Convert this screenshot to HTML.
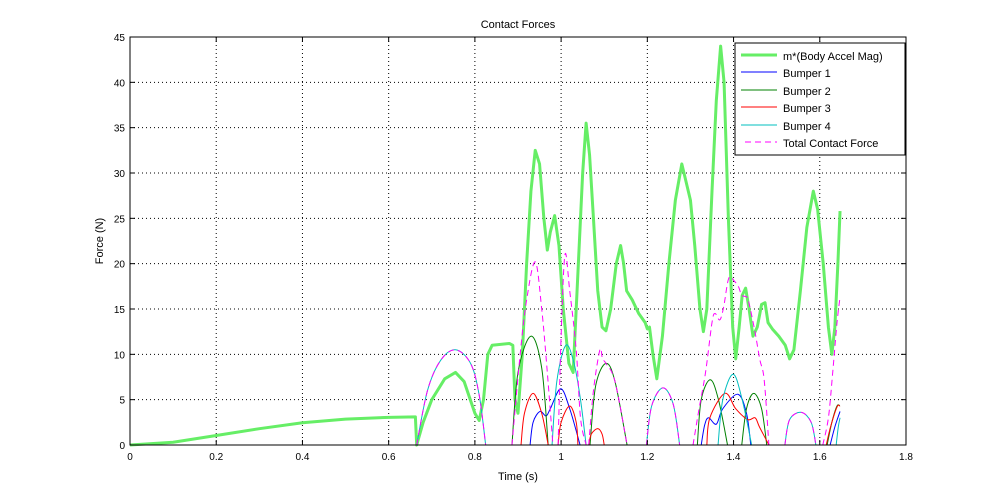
<!DOCTYPE html>
<html><head><meta charset="utf-8"><style>
html,body{margin:0;padding:0;background:#fff;}
svg{display:block;font-family:"Liberation Sans",sans-serif;}
</style></head><body>
<svg id="chart" width="1000" height="500" viewBox="0 0 1000 500" xmlns="http://www.w3.org/2000/svg">
<rect x="0" y="0" width="1000" height="500" fill="#fff"/>
<g id="grid"></g>
<g id="series"></g>
<rect x="130" y="37" width="776" height="408" fill="none" stroke="#000" stroke-width="1"/>
<g id="ticks"></g>
<text x="518" y="28" font-size="11" text-anchor="middle">Contact Forces</text>
<text x="518" y="480" font-size="11" text-anchor="middle">Time (s)</text>
<text x="103" y="241" font-size="11" text-anchor="middle" transform="rotate(-90 103 241)">Force (N)</text>
<g>
<rect x="735" y="43" width="170" height="112" fill="#fff" stroke="#000"/>
<g><line x1="741" y1="55" x2="777" y2="55" stroke="#66ee66" stroke-width="3"/><text x="783" y="60" font-size="11">m*(Body Accel Mag)</text></g>
<g><line x1="741" y1="72" x2="777" y2="72" stroke="#0000ff"/><text x="783" y="77" font-size="11">Bumper 1</text></g>
<g><line x1="741" y1="90" x2="777" y2="90" stroke="#008000"/><text x="783" y="95" font-size="11">Bumper 2</text></g>
<g><line x1="741" y1="107" x2="777" y2="107" stroke="#ff0000"/><text x="783" y="112" font-size="11">Bumper 3</text></g>
<g><line x1="741" y1="125" x2="777" y2="125" stroke="#00bfbf"/><text x="783" y="130" font-size="11">Bumper 4</text></g>
<g><line x1="745" y1="142" x2="777" y2="142" stroke="#ff00ff" stroke-dasharray="6,4"/><text x="783" y="147" font-size="11">Total Contact Force</text></g>
</g>
</svg>
<script>
const xTicks=[0,0.2,0.4,0.6,0.8,1,1.2,1.4,1.6,1.8];
const xTickLabels=["0","0.2","0.4","0.6","0.8","1","1.2","1.4","1.6","1.8"];
const yTicks=[0,5,10,15,20,25,30,35,40,45];
const yTickLabels=["0","5","10","15","20","25","30","35","40","45"];
const bodyAccel=[[0,0],[0.1,0.3],[0.2,1.05],[0.3,1.8],[0.4,2.45],[0.5,2.85],[0.6,3.05],[0.662,3.1],[0.665,0],[0.68,2.5],[0.7,5],[0.73,7.3],[0.755,8],[0.775,7],[0.8,3.5],[0.81,2.7],[0.82,5],[0.83,10],[0.84,11],[0.88,11.2],[0.888,11],[0.893,5],[0.9,3.5],[0.91,10],[0.92,20],[0.93,28],[0.94,32.5],[0.95,31],[0.96,25],[0.968,21.5],[0.975,23.5],[0.985,25.3],[0.995,22],[1.005,15],[1.018,9],[1.028,8],[1.038,18],[1.05,30],[1.058,35.5],[1.066,32],[1.075,25],[1.085,17],[1.095,13],[1.104,12.6],[1.115,15],[1.128,20],[1.138,22],[1.145,20],[1.152,17],[1.165,16],[1.18,14.5],[1.195,13.5],[1.2,12.8],[1.205,13],[1.213,10],[1.222,7.3],[1.235,12],[1.25,20],[1.265,27],[1.28,31],[1.29,29],[1.3,27],[1.31,22],[1.322,15],[1.33,12.5],[1.338,15],[1.35,28],[1.36,38],[1.37,44],[1.378,40],[1.388,25],[1.398,13],[1.405,9.5],[1.413,13],[1.42,16.5],[1.428,17.3],[1.436,15],[1.445,12],[1.455,13],[1.465,15.5],[1.473,15.7],[1.48,13.5],[1.49,12.8],[1.505,12],[1.52,11],[1.53,9.5],[1.54,10.5],[1.555,17],[1.57,24],[1.585,28],[1.595,26],[1.608,20],[1.62,13],[1.628,10],[1.635,13],[1.642,20],[1.647,25.8]];
const bumper1=[[[0.928,0],[0.935,2.5],[0.951,3.7],[0.965,3.2],[0.975,4],[0.999,6.2],[1.02,4],[1.044,0]],[[1.325,0],[1.333,2.2],[1.342,3],[1.36,2.3],[1.375,4],[1.41,5.6],[1.43,3.5],[1.44,0]],[[1.624,0],[1.635,2],[1.647,3.7]]];
const bumper2=[[[0.886,0],[0.9,8],[0.93,12],[0.955,8.5],[0.97,0]],[[1.067,0],[1.08,6.5],[1.104,9],[1.125,7],[1.153,0]],[[1.316,0],[1.325,5],[1.346,7.2],[1.365,5],[1.386,0]],[[1.419,0],[1.43,4],[1.447,5.7],[1.465,4],[1.477,0]],[[1.617,0],[1.628,2.5],[1.64,4.3],[1.647,4.3]]];
const bumper3=[[[0.907,0],[0.915,3.5],[0.935,5.7],[0.955,3.5],[0.97,0]],[[0.993,0],[1.0,2.5],[1.02,4.3],[1.035,2.5],[1.039,0]],[[1.064,0],[1.07,1.2],[1.085,1.8],[1.095,1.2],[1.1,0]],[[1.338,0],[1.345,3],[1.38,5.7],[1.405,4],[1.433,2.8],[1.45,3],[1.46,2],[1.482,0]],[[1.615,0],[1.625,2],[1.64,4.2],[1.647,4.3]]];
const bumper4=[[[0.665,0],[0.69,6],[0.72,9.3],[0.755,10.5],[0.79,9],[0.81,5.5],[0.825,0]],[[0.979,0],[0.99,7],[1.011,11],[1.03,9],[1.045,5],[1.058,0]],[[1.198,0],[1.21,4.3],[1.236,6.3],[1.26,4.5],[1.275,0]],[[1.364,0],[1.375,5],[1.399,7.8],[1.42,5],[1.442,0]],[[1.519,0],[1.53,2.8],[1.557,3.6],[1.58,2.5],[1.591,0]],[[1.638,0],[1.643,2],[1.647,3]]];
const totalContact=[[[0.665,0],[0.69,6],[0.72,9.3],[0.755,10.5],[0.79,9],[0.81,5.5],[0.825,0]],[[0.886,0],[0.905,10],[0.92,16],[0.94,20.2],[0.955,15],[0.968,8],[0.981,0]],[[0.993,0],[1.0,12],[1.009,21],[1.02,17],[1.035,10.5],[1.045,3],[1.058,0]],[[1.064,0],[1.075,6],[1.09,10.5],[1.096,9.5],[1.104,9],[1.125,7],[1.153,0]],[[1.198,0],[1.21,4.3],[1.236,6.3],[1.26,4.5],[1.275,0]],[[1.306,0],[1.32,4],[1.335,8],[1.35,13.5],[1.357,14.5],[1.368,13.8],[1.377,15.2],[1.389,18.4],[1.403,18],[1.412,17.4],[1.419,16.5],[1.431,16.3],[1.438,15.2],[1.45,12.4],[1.461,9.4],[1.471,7.2],[1.482,0]],[[1.519,0],[1.53,2.8],[1.557,3.6],[1.58,2.5],[1.591,0]],[[1.607,0],[1.62,3],[1.63,8],[1.64,13.5],[1.647,16.3]]];

const NS="http://www.w3.org/2000/svg";
const L=130,R=906,T=37,B=445;
function xs(t){return L+(t-0)/(1.8-0)*(R-L);}
function ys(v){return B-(v-0)/(45-0)*(B-T);}
const grid=document.getElementById('grid'),ticks=document.getElementById('ticks'),ser=document.getElementById('series');
function mk(tag,attrs,parent){const e=document.createElementNS(NS,tag);for(const k in attrs)e.setAttribute(k,attrs[k]);parent.appendChild(e);return e;}
xTicks.forEach((t,i)=>{const x=xs(t);
 if(i>0&&i<xTicks.length-1){const g=mk('line',{x1:x,y1:T,x2:x,y2:B,stroke:'#000','stroke-dasharray':'1,3'},grid);
 
 }
 mk('line',{x1:x,y1:B,x2:x,y2:B-5,stroke:'#000'},ticks);mk('line',{x1:x,y1:T,x2:x,y2:T+5,stroke:'#000'},ticks);
 const tx=mk('text',{x:x,y:B+15,'font-size':10,'text-anchor':'middle'},ticks);tx.textContent=xTickLabels[i];
 
 
});
yTicks.forEach((v,i)=>{const y=ys(v);
 if(i>0&&i<yTicks.length-1){const g=mk('line',{x1:L,y1:y,x2:R,y2:y,stroke:'#000','stroke-dasharray':'1,3'},grid);
 
 }
 mk('line',{x1:L,y1:y,x2:L+5,y2:y,stroke:'#000'},ticks);mk('line',{x1:R,y1:y,x2:R-5,y2:y,stroke:'#000'},ticks);
 const tx=mk('text',{x:L-5,y:y+4,'font-size':10,'text-anchor':'end'},ticks);tx.textContent=yTickLabels[i];
 
 
});
function smoothPath(pts){const p=pts.map(d=>[xs(d[0]),ys(d[1])]);let s='M'+p[0][0]+','+p[0][1];
 for(let i=0;i<p.length-1;i++){const p0=p[i-1]||p[i],p1=p[i],p2=p[i+1],p3=p[i+2]||p2;
  let c1y=p1[1]+(p2[1]-p0[1])/6,c2y=p2[1]-(p3[1]-p1[1])/6;c1y=Math.min(c1y,B);c2y=Math.min(c2y,B);
  s+=' C'+(p1[0]+(p2[0]-p0[0])/6)+','+c1y+' '+(p2[0]-(p3[0]-p1[0])/6)+','+c2y+' '+p2[0]+','+p2[1];}
 return s;}
function linePath(pts){return pts.map((d,i)=>(i?'L':'M')+xs(d[0])+','+ys(d[1])).join(' ');}
function drawSegs(segs,color,name,dash){segs.forEach(seg=>{const a={d:smoothPath(seg),fill:'none',stroke:color,'stroke-width':1};if(dash)a['stroke-dasharray']=dash;const e=mk('path',a,ser);
 
 });}
const g=mk('path',{d:linePath(bodyAccel),fill:'none',stroke:'#66ee66','stroke-width':3,'stroke-linejoin':'round'},ser);


drawSegs(bumper1,'#0000ff','bumper-1-line');
drawSegs(bumper2,'#008000','bumper-2-line');
drawSegs(bumper3,'#ff0000','bumper-3-line');
drawSegs(bumper4,'#00bfbf','bumper-4-line');
drawSegs(totalContact,'#ff00ff','total-contact-line','6,4');
</script>
</body></html>
